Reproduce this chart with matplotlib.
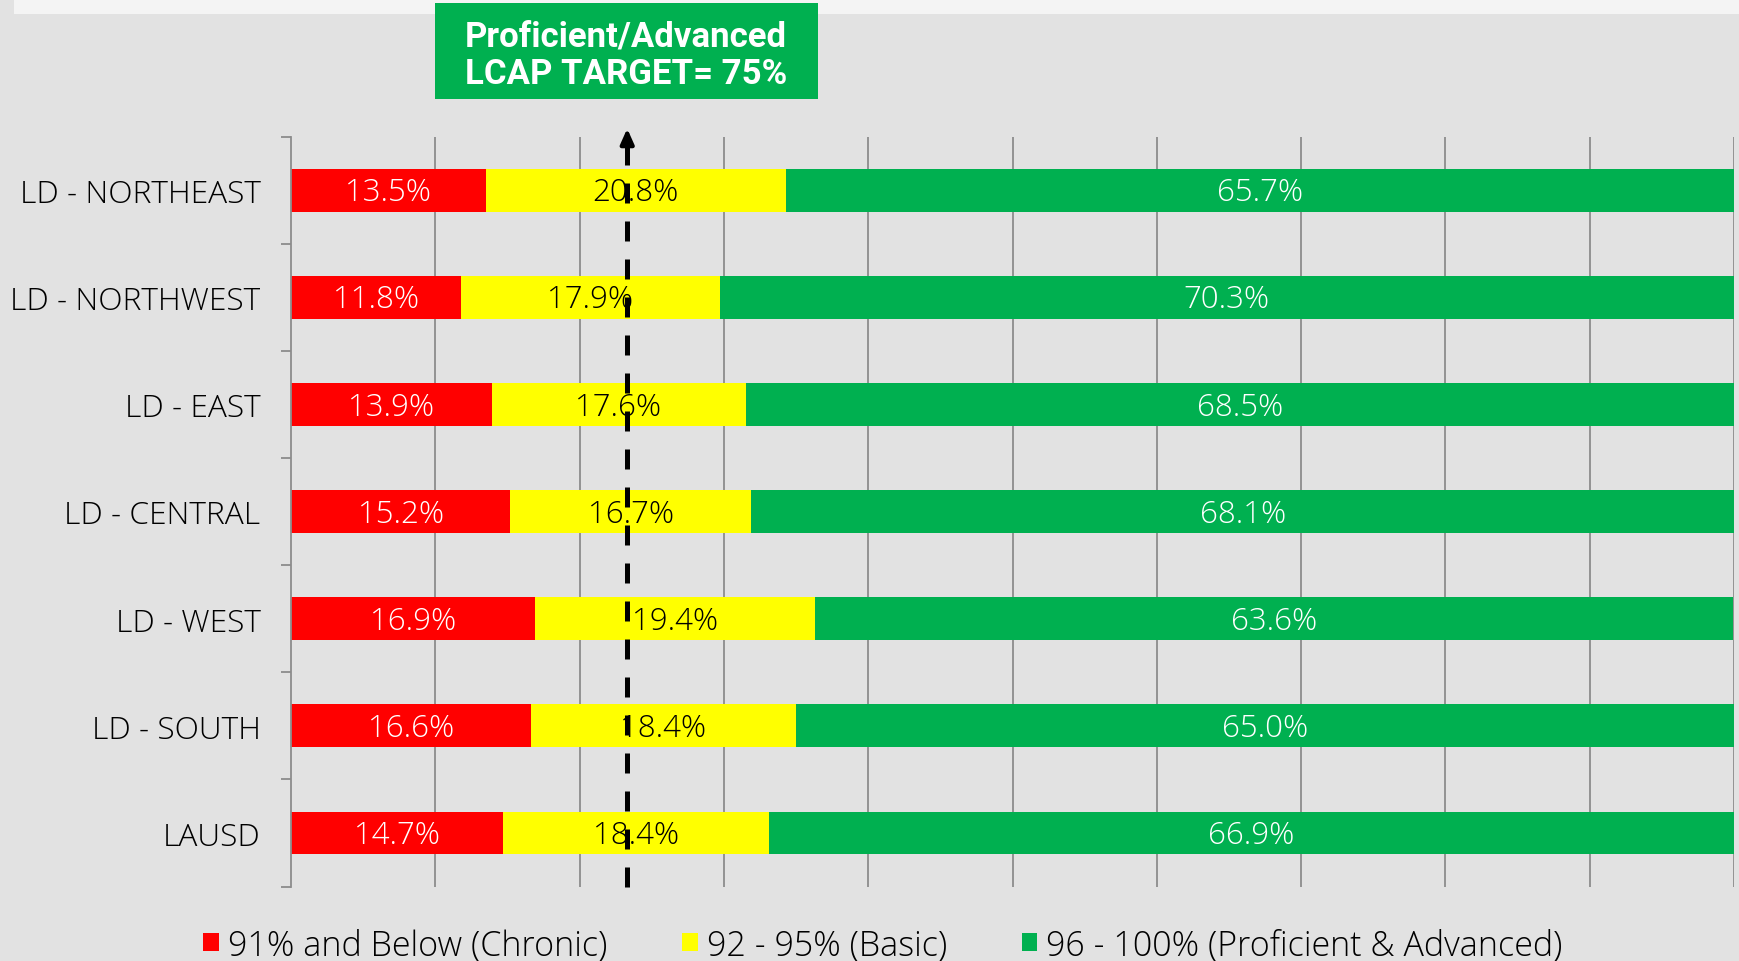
import matplotlib
matplotlib.use("Agg")
import matplotlib.pyplot as plt
from matplotlib.patches import Rectangle, Patch
import numpy as np

categories = ["LD - NORTHEAST", "LD - NORTHWEST", "LD - EAST", "LD - CENTRAL",
              "LD - WEST", "LD - SOUTH", "LAUSD"]
chronic = [13.5, 11.8, 13.9, 15.2, 16.9, 16.6, 14.7]
basic = [20.8, 17.9, 17.6, 16.7, 19.4, 18.4, 18.4]
proficient = [65.7, 70.3, 68.5, 68.1, 63.6, 65.0, 66.9]
series_names = ["91% and Below (Chronic)", "92 - 95% (Basic)",
                "96 - 100% (Proficient & Advanced)"]
target_line = 23.3  # position of the dashed target marker on the axis

RED, YELLOW, GREEN = "#ff0000", "#ffff00", "#00b050"
BG = "#e2e2e2"
FONT = ["Open Sans", "DejaVu Sans"]

fig = plt.figure(figsize=(17.4, 9.62), dpi=100, facecolor=BG)
W, H = 1740, 962
# light strip at the very top
fig.patches.append(Rectangle((14 / W, 1 - 15 / H), 1, 15 / H, transform=fig.transFigure,
                             facecolor="#f4f4f4", edgecolor="none", zorder=0))

ax = fig.add_axes([291 / W, 1 - 887.5 / H, (1734 - 291) / W, (887.5 - 137.5) / H])
ax.set_facecolor(BG)

y = np.arange(len(categories))
left = np.zeros(len(categories))
for vals, col, tc in [(chronic, RED, "white"), (basic, YELLOW, "black"), (proficient, GREEN, "white")]:
    vals = np.array(vals)
    ax.barh(y, vals, left=left, height=0.4, color=col, zorder=2)
    for yi, l, v in zip(y, left, vals):
        ax.text(l + v / 2, yi + 0.02, f"{v:.1f}%", ha="center", va="center", color=tc,
                fontsize=22.5, family=FONT, fontweight="light", zorder=5)
    left += vals

ax.set_xlim(0, 100)
ax.set_ylim(6.5, -0.5)
ax.set_xticks(np.arange(10, 101, 10))
ax.tick_params(axis="x", length=0, labelbottom=False)
ax.grid(axis="x", color="#8c8c8c", linewidth=1.3, zorder=1)
ax.set_yticks(y)
ax.set_yticklabels(categories, family=FONT, fontsize=22.8, fontweight="light")
ax.tick_params(axis="y", length=0, pad=22)
ax.set_yticks(np.arange(-0.5, 7, 1), minor=True)
ax.tick_params(axis="y", which="minor", length=7, color="#8c8c8c", width=1.3)
for s in ["top", "right", "bottom"]:
    ax.spines[s].set_visible(False)
ax.spines["left"].set_color("#8c8c8c")
ax.spines["left"].set_linewidth(1.3)

# dashed target line with arrow head
ax.plot([target_line, target_line], [6.5, -0.4], color="black", lw=3.6,
        dashes=(4, 3.6), clip_on=False, zorder=4)
ax.annotate("", xy=(target_line, -0.6), xytext=(target_line, -0.38),
            arrowprops=dict(arrowstyle="-|>,head_width=0.4,head_length=0.9",
                            color="black", lw=3), annotation_clip=False, zorder=4)

# green target box
fig.patches.append(Rectangle((435 / W, 1 - 100 / H), (818 - 435) / W, 96 / H,
                             transform=fig.transFigure, facecolor=GREEN,
                             edgecolor="none", zorder=3))
box_font = ["Roboto", "DejaVu Sans"]
fig.text(626 / W, 1 - 37 / H, "Proficient/Advanced", ha="center", va="center",
         color="white", fontsize=25, fontweight="bold", family=box_font, zorder=4)
fig.text(626 / W, 1 - 75 / H, "LCAP TARGET= 75%", ha="center", va="center",
         color="white", fontsize=25, fontweight="bold", family=box_font, zorder=4)

handles = [Patch(facecolor=c, edgecolor="none") for c in (RED, YELLOW, GREEN)]
fig.legend(handles, series_names, loc="center", bbox_to_anchor=(883 / W, 1 - 946 / H),
           ncol=3, frameon=False, prop={"family": FONT, "size": 24.5, "weight": "light"},
           handlelength=0.46, handleheight=0.46, handletextpad=0.26, columnspacing=2.2)

fig.savefig("out.png", dpi=100, facecolor=BG)
